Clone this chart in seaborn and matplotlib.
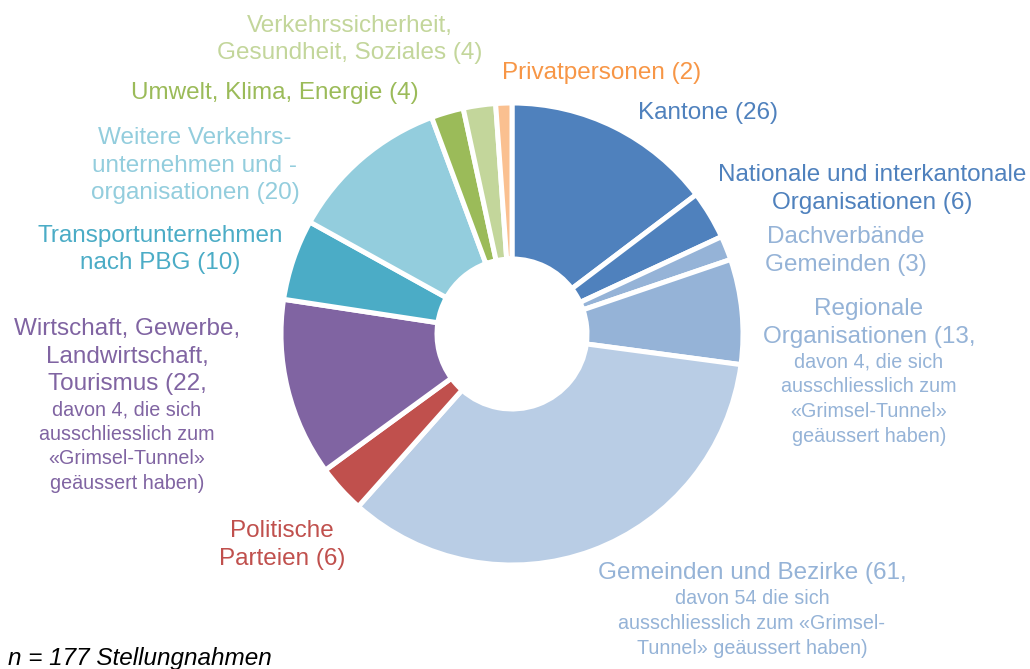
import matplotlib
matplotlib.use("Agg")
import matplotlib.pyplot as plt
import seaborn as sns

# Stellungnahmen nach Kategorie (n = 177), im Uhrzeigersinn ab 12 Uhr
categories = [
    "Kantone",
    "Nationale und interkantonale Organisationen",
    "Dachverbände Gemeinden",
    "Regionale Organisationen",
    "Gemeinden und Bezirke",
    "Politische Parteien",
    "Wirtschaft, Gewerbe, Landwirtschaft, Tourismus",
    "Transportunternehmen nach PBG",
    "Weitere Verkehrsunternehmen und -organisationen",
    "Umwelt, Klima, Energie",
    "Verkehrssicherheit, Gesundheit, Soziales",
    "Privatpersonen",
]
counts = [26, 6, 3, 13, 61, 6, 22, 10, 20, 4, 4, 2]

wedge_colors = ["#4F81BD", "#4F81BD", "#95B3D7", "#95B3D7", "#B9CDE5", "#C0504D",
                "#8064A2", "#4BACC6", "#93CDDD", "#9BBB59", "#C3D69B", "#FAC090"]
text_colors = ["#4F81BD", "#4F81BD", "#95B3D7", "#95B3D7", "#95B3D7", "#C0504D",
               "#8064A2", "#4BACC6", "#93CDDD", "#9BBB59", "#C3D69B", "#F79646"]

main_lines = [
    ["Kantone (26)"],
    ["Nationale und interkantonale", "Organisationen (6)"],
    ["Dachverbände", "Gemeinden (3)"],
    ["Regionale", "Organisationen (13,"],
    ["Gemeinden und Bezirke (61,"],
    ["Politische", "Parteien (6)"],
    ["Wirtschaft, Gewerbe,", "Landwirtschaft,", "Tourismus (22,"],
    ["Transportunternehmen", "nach PBG (10)"],
    ["Weitere Verkehrs-", "unternehmen und -", "organisationen (20)"],
    ["Umwelt, Klima, Energie (4)"],
    ["Verkehrssicherheit,", "Gesundheit, Soziales (4)"],
    ["Privatpersonen (2)"],
]
note_lines = [
    [], [], [],
    ["davon 4, die sich", "ausschliesslich zum", "«Grimsel-Tunnel»", "geäussert haben)"],
    ["davon 54 die sich", "ausschliesslich zum «Grimsel-", "Tunnel» geäussert haben)"],
    [],
    ["davon 4, die sich", "ausschliesslich zum", "«Grimsel-Tunnel»", "geäussert haben)"],
    [], [], [], [], [],
]

# label anchor: centre x, centre y of the first line (pixels from top-left)
label_pos = [(708, 113), (872, 175), (846, 237), (869, 309), (752, 573), (282, 531),
             (127, 329), (160, 236), (195, 138), (275, 93), (350, 26), (602, 73)]

sns.set_theme(style="white")
plt.rcParams["font.family"] = ["Liberation Sans", "DejaVu Sans"]

W, H = 1030, 669
fig = plt.figure(figsize=(W / 100, H / 100), dpi=100)
ax = fig.add_axes([0, 0, 1, 1])
ax.set_xlim(0, W)
ax.set_ylim(0, H)
ax.set_aspect("equal")
ax.axis("off")

ax.pie(counts, colors=wedge_colors, startangle=90, counterclock=False,
       center=(512, H - 334), radius=231,
       wedgeprops=dict(width=156, edgecolor="white", linewidth=3.6))
ax.set_xlim(0, W)
ax.set_ylim(0, H)

for (x, y), big, small, col in zip(label_pos, main_lines, note_lines, text_colors):
    for line in big:
        ax.text(x, H - y, line, color=col, fontsize=17.5, ha="center", va="center")
        y += 27.5
    y -= 1.5
    for line in small:
        ax.text(x, H - y, line, color=col, fontsize=14.2, ha="center", va="center")
        y += 24.5

ax.text(8, H - 659, "n = 177 Stellungnahmen", color="black", fontsize=17.5,
        style="italic", ha="left", va="center")

fig.savefig("out.png", dpi=100)
